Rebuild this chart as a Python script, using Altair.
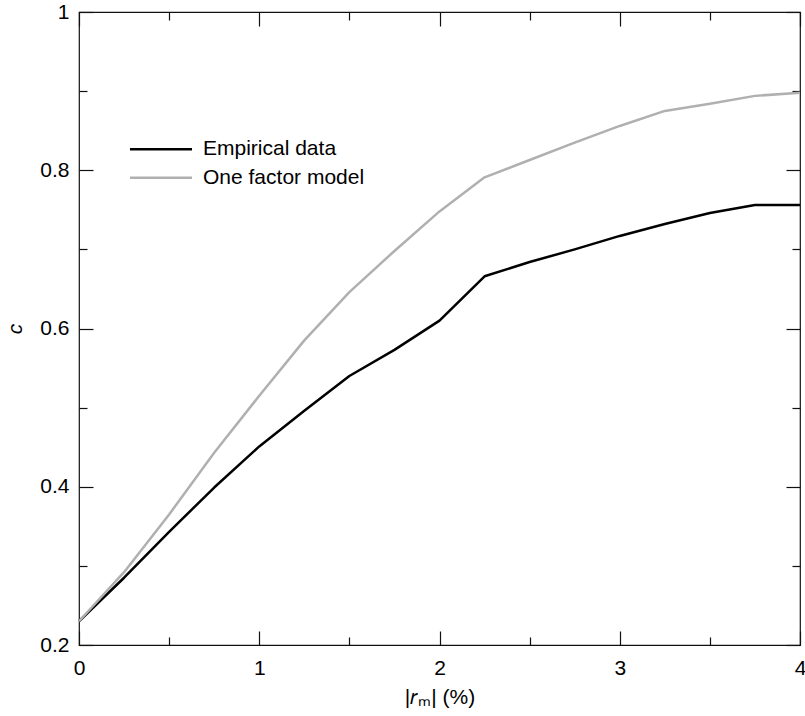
import altair as alt
import pandas as pd

x_vals = [0, 0.25, 0.5, 0.75, 1.0, 1.25, 1.5, 1.75, 2.0, 2.25, 2.5, 2.75, 3.0, 3.25, 3.5, 3.75, 4.0]
empirical = [0.23, 0.285, 0.343, 0.399, 0.451, 0.496, 0.540, 0.573, 0.610, 0.666, 0.684, 0.700, 0.717, 0.732, 0.746, 0.756, 0.756]
one_factor = [0.23, 0.292, 0.365, 0.443, 0.515, 0.585, 0.646, 0.698, 0.748, 0.791, 0.813, 0.835, 0.856, 0.875, 0.884, 0.894, 0.898]

series_names = ["Empirical data", "One factor model"]
series_colors = ["#000000", "#b0b0b0"]

x_major = [0, 1, 2, 3, 4]
x_minor = [0.5, 1.5, 2.5, 3.5]
y_major = [0.2, 0.4, 0.6, 0.8, 1.0]
y_minor = [0.3, 0.5, 0.7, 0.9]

rows = []
for name, vals in zip(series_names, [empirical, one_factor]):
    for xv, cv in zip(x_vals, vals):
        rows.append({"x": xv, "c": cv, "series": name})
df = pd.DataFrame(rows)

FONT = "Liberation Sans"
xs = alt.Scale(domain=[0, 4], nice=False, zero=False)
ys = alt.Scale(domain=[0.2, 1.0], nice=False, zero=False)

lines = alt.Chart(df).mark_line(strokeWidth=2.5, strokeJoin="round").encode(
    x=alt.X("x:Q", scale=xs, title="|𝑟ₘ| (%)",
            axis=alt.Axis(orient="bottom", values=x_major, offset=-14, tickSize=14,
                          labelPadding=12, labelFlush=False, domain=False, grid=False,
                          format="~g",
                          labelFont=FONT, labelFontSize=21, labelColor="black",
                          titleFont=FONT, titleFontSize=21, titleFontWeight="normal",
                          titleColor="black", titlePadding=8)),
    y=alt.Y("c:Q", scale=ys, title="c",
            axis=alt.Axis(orient="left", values=y_major, offset=-14, tickSize=14,
                          labelPadding=10, labelFlush=False, domain=False, grid=False,
                          format="~g",
                          labelFont=FONT, labelFontSize=21, labelColor="black",
                          titleFont=FONT, titleFontSize=21, titleFontWeight="normal",
                          titleFontStyle="italic", titleColor="black", titlePadding=14)),
    color=alt.Color("series:N", scale=alt.Scale(domain=series_names, range=series_colors),
                    legend=alt.Legend(title=None, orient="none", legendX=67.5, legendY=122.7,
                                      symbolType="M-2.385,0H2.385", symbolSize=676,
                                      symbolStrokeWidth=2.5, labelOffset=27.5,
                                      labelFont=FONT, labelFontSize=21, labelColor="black",
                                      padding=0, rowPadding=3.5, labelLimit=400)),
)


def tick_layer(xaxis, yaxis):
    return alt.Chart(df).mark_point(opacity=0).encode(
        x=alt.X("x:Q", scale=xs, title=None, axis=xaxis),
        y=alt.Y("c:Q", scale=ys, title=None, axis=yaxis),
    )


def ax(orient, values, size):
    return alt.Axis(orient=orient, values=values, offset=-size, tickSize=size,
                    labels=False, domain=False, grid=False)


l2 = tick_layer(ax("bottom", x_minor, 8), ax("left", y_minor, 8))
l3 = tick_layer(ax("top", x_major, 14), ax("right", y_major, 14))
l4 = tick_layer(ax("top", x_minor, 8), ax("right", y_minor, 8))

chart = alt.layer(lines, l2, l3, l4).resolve_axis(
    x="independent", y="independent"
).properties(
    width=721, height=633,
    autosize=alt.AutoSizeParams(type="none"),
    padding={"left": 79, "top": 12, "right": 5, "bottom": 71},
).configure_view(
    stroke="#111111", strokeWidth=1.2
).configure_axis(
    tickColor="#111111", tickWidth=1.2
)

chart.save("out.html", embed_options={"renderer": "svg", "actions": False})
